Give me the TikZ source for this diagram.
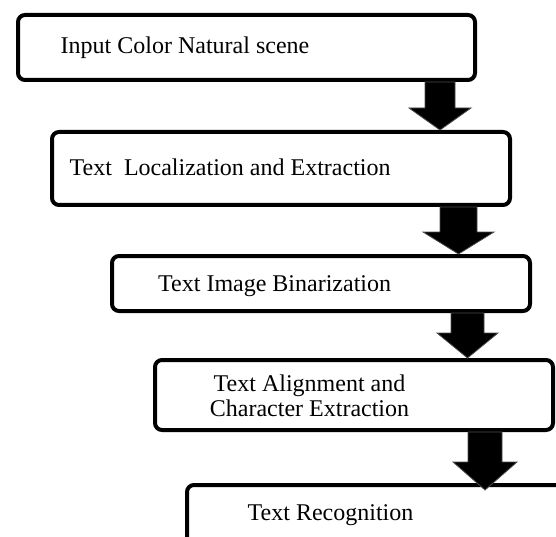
\documentclass[tikz,border=0pt]{standalone}
\usepackage{fontspec}
\setmainfont{Liberation Serif}
\usetikzlibrary{calc}

% block arrow: #1 start, #2 tip, #3 shaft half width, #4 head half width, #5 head length (pt)
\newcommand\droparrow[5]{%
  \filldraw[droparrowstyle] let \p1=(#1), \p2=(#2) in
    ({\x1-#3pt},\y1) -- ({\x1-#3pt},{\y2+#5pt}) -- ({\x1-#4pt},{\y2+#5pt})
    -- (\x1,\y2) -- ({\x1+#4pt},{\y2+#5pt}) -- ({\x1+#3pt},{\y2+#5pt})
    -- ({\x1+#3pt},\y1) -- cycle;}

\tikzset{
  stagebox/.style={draw=black, line width=4pt, rounded corners=7pt, fill=white,
    inner sep=0pt},
  stagetext/.style={inner sep=0pt, anchor=base west, font=\fontsize{24}{24.3}\selectfont},
  stagetextc/.style={stagetext, anchor=base},
  droparrowstyle/.style={fill=black, draw=black!70, line width=0.8pt, line join=miter},
}

\begin{document}
\begin{tikzpicture}[x=1pt, y=-1pt]
  \useasboundingbox (0,0) rectangle (556,537);
  \clip (0,0) rectangle (556,537);

  % stage boxes
  \node[stagebox, minimum width=457pt, minimum height=65pt] (b1) at (246.5,47.5) {};
  \node[stagebox, minimum width=458pt, minimum height=73pt] (b2) at (281,168.5) {};
  \node[stagebox, minimum width=418pt, minimum height=55pt] (b3) at (321,283.5) {};
  \node[stagebox, minimum width=398pt, minimum height=70pt] (b4) at (354,395) {};
  \node[stagebox, minimum width=613pt, minimum height=215pt] (b5) at (493.5,592.5) {};

  % labels
  \node[stagetext] (t1) at (60.5,54) {Input Color Natural scene};
  \node[stagetext] (t2) at (69.5,175.5) {Text~~Localization and Extraction};
  \node[stagetext] (t3) at (158,291.7) {Text Image Binarization};
  \node[stagetextc] (t4a) at (309.5,391.7) {Text Alignment and};
  \node[stagetextc] (t4b) at (309.5,416) {Character Extraction};
  \node[stagetext] (t5) at (247.5,520) {Text Recognition};

  % arrow axes
  \coordinate (a1) at (440,0);
  \coordinate (a2) at (458.5,0);
  \coordinate (a3) at (467.5,0);
  \coordinate (a4) at (485,0);

  % arrows between stages
  \droparrow{a1 |- b1.south}{a1 |- b2.north}{15}{31}{22}
  \droparrow{a2 |- b2.south}{a2 |- b3.north}{18.5}{35.5}{22}
  \droparrow{a3 |- b3.south}{a3 |- b4.north}{16.5}{30.5}{25}
  \droparrow{a4 |- b4.south}{$(a4 |- b5.north)+(0,7)$}{17}{32}{28}
\end{tikzpicture}
\end{document}
